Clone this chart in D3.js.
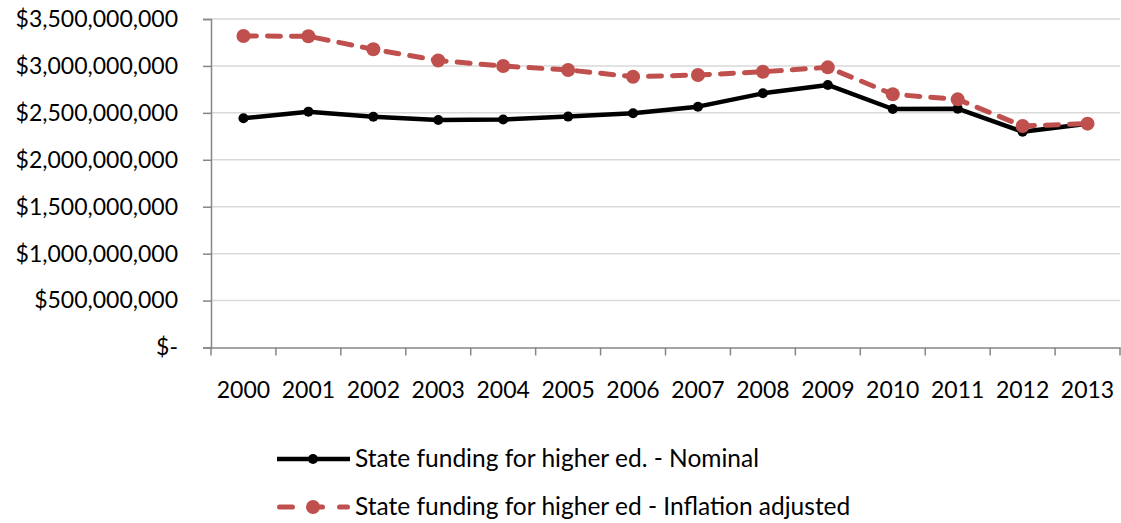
<!DOCTYPE html>
<html>
<head>
<meta charset="utf-8">
<script src="https://cdn.jsdelivr.net/npm/d3@7"></script>
<style>
  html, body { margin: 0; padding: 0; background: #fff; }
  svg { display: block; font-family: Lato, "Open Sans", sans-serif; }
</style>
</head>
<body>
<svg id="chart" width="1121" height="523"></svg>
<script>
// Years on the x axis
const years = ["2000","2001","2002","2003","2004","2005","2006","2007","2008","2009","2010","2011","2012","2013"];

// State funding for higher education, dollars
const nominal = [2442e6, 2513e6, 2459e6, 2424e6, 2430e6, 2460e6, 2495e6, 2566e6, 2708e6, 2797e6, 2541e6, 2545e6, 2299e6, 2385e6];
const inflationAdjusted = [3319e6, 3316e6, 3177e6, 3058e6, 2999e6, 2957e6, 2885e6, 2903e6, 2938e6, 2985e6, 2698e6, 2644e6, 2360e6, 2385e6];

// Y axis ticks
const yTicks = [0, 500e6, 1000e6, 1500e6, 2000e6, 2500e6, 3000e6, 3500e6];

const seriesNames = ["State funding for higher ed. - Nominal", "State funding for higher ed - Inflation adjusted"];

const svg = d3.select("#chart");
const plot = { left: 211, right: 1120, top: 19, bottom: 347.5 };
const fontSize = 23;

const x = d3.scaleBand().domain(years).range([plot.left, plot.right]);
const y = d3.scaleLinear().domain([0, 3500e6]).range([plot.bottom, plot.top]);

const fmt = v => v === 0 ? "$-" : "$" + d3.format(",")(v);

// Gridlines
svg.append("g").selectAll("line").data(yTicks.filter(d => d > 0)).join("line")
  .attr("x1", plot.left).attr("x2", plot.right)
  .attr("y1", d => y(d)).attr("y2", d => y(d))
  .attr("stroke", "#d9d9d9").attr("stroke-width", 1.5);

// Y axis
const yAxis = svg.append("g").attr("transform", `translate(${plot.left},0)`)
  .call(d3.axisLeft(y).tickValues(yTicks).tickFormat(fmt).tickSize(8).tickPadding(25));
yAxis.select(".domain").attr("stroke", "#868686").attr("stroke-width", 1.5);
yAxis.selectAll(".tick line").attr("stroke", "#868686").attr("stroke-width", 1.5);
yAxis.selectAll("text").attr("font-size", fontSize).attr("fill", "#000").attr("font-family", "Lato, sans-serif");

// X axis
const xAxis = svg.append("g").attr("transform", `translate(0,${plot.bottom})`)
  .call(d3.axisBottom(x).tickSize(0).tickPadding(34));
xAxis.select(".domain").attr("stroke", "#868686").attr("stroke-width", 1.5);
xAxis.selectAll("text").attr("font-size", fontSize).attr("fill", "#000").attr("font-family", "Lato, sans-serif");
// Boundary tick marks between categories
const bounds = years.map(d => x(d)).concat([plot.right]);
xAxis.append("g").selectAll("line").data(bounds).join("line")
  .attr("x1", d => d).attr("x2", d => d).attr("y1", 0).attr("y2", 8)
  .attr("stroke", "#868686").attr("stroke-width", 1.5);

const cx = d => x(d) + x.bandwidth() / 2;
const line = d3.line().x(d => cx(d.year)).y(d => y(d.value));

const nomData = years.map((yr, i) => ({ year: yr, value: nominal[i] }));
const infData = years.map((yr, i) => ({ year: yr, value: inflationAdjusted[i] }));

const red = "#c0504d";

// Nominal series
svg.append("path").datum(nomData).attr("d", line)
  .attr("fill", "none").attr("stroke", "#000").attr("stroke-width", 4.5)
  .attr("stroke-linejoin", "round");
svg.append("g").selectAll("circle").data(nomData).join("circle")
  .attr("cx", d => cx(d.year)).attr("cy", d => y(d.value)).attr("r", 5).attr("fill", "#000");

// Inflation-adjusted series
svg.append("path").datum(infData).attr("d", line)
  .attr("fill", "none").attr("stroke", red).attr("stroke-width", 5)
  .attr("stroke-dasharray", "13,11").attr("stroke-linecap", "round")
  .attr("stroke-linejoin", "round");
svg.append("g").selectAll("circle").data(infData).join("circle")
  .attr("cx", d => cx(d.year)).attr("cy", d => y(d.value)).attr("r", 7).attr("fill", red);

// Legend
const legend = svg.append("g");
const rows = [
  { name: seriesNames[0], y: 459, color: "#000", width: 4.5, dash: null, r: 5, cap: "butt" },
  { name: seriesNames[1], y: 507, color: red, width: 5, dash: "13,17", r: 7, cap: "round" }
];
rows.forEach(r => {
  const g = legend.append("g");
  g.append("line").attr("x1", r.dash ? 279.5 : 277).attr("x2", r.dash ? 347.5 : 350)
    .attr("y1", r.y).attr("y2", r.y)
    .attr("stroke", r.color).attr("stroke-width", r.width)
    .attr("stroke-dasharray", r.dash).attr("stroke-linecap", r.cap);
  g.append("circle").attr("cx", 313).attr("cy", r.y).attr("r", r.r).attr("fill", r.color);
  g.append("text").attr("x", 355).attr("y", r.y + 8).attr("font-size", 24.5)
    .attr("fill", "#000").text(r.name);
});
</script>
</body>
</html>
